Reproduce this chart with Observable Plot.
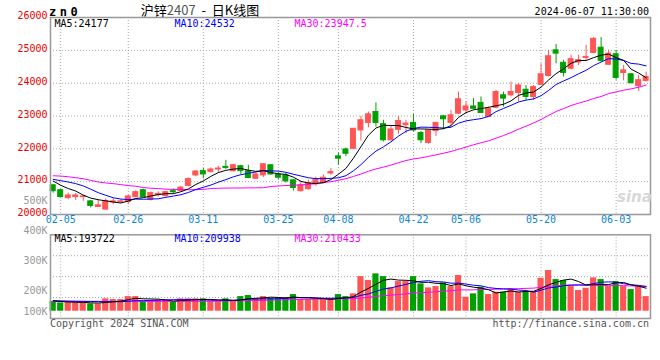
<!DOCTYPE html>
<html><head><meta charset="utf-8">
<script src="https://cdn.jsdelivr.net/npm/d3@7"></script>
<script src="https://cdn.jsdelivr.net/npm/@observablehq/plot@0.6"></script>
<style>
body{margin:0;background:#fff;}
#wrap{position:relative;width:660px;height:360px;overflow:hidden;background:#fff;}
</style></head><body><div id="wrap"></div>
<script>
// ---------- data ----------
const dates = ["02-02","02-05","02-06","02-07","02-08","02-19","02-20","02-21","02-22","02-23",
"02-26","02-27","02-28","02-29","03-01","03-04","03-05","03-06","03-07","03-08",
"03-11","03-12","03-13","03-14","03-15","03-18","03-19","03-20","03-21","03-22",
"03-25","03-26","03-27","03-28","03-29","04-01","04-02","04-03","04-08","04-09",
"04-10","04-11","04-12","04-15","04-16","04-17","04-18","04-19","04-22","04-23",
"04-24","04-25","04-26","04-29","04-30","05-06","05-07","05-08","05-09","05-10",
"05-13","05-14","05-15","05-16","05-17","05-20","05-21","05-22","05-23","05-24",
"05-27","05-28","05-29","05-30","05-31","06-03","06-04","06-05","06-06","06-07"];
const opens = [20890,20740,20500,20530,20530,20400,20230,20150,20370,20380,
20380,20530,20740,20450,20590,20560,20710,20720,20870,21190,
21320,21300,21370,21450,21320,21470,21320,21090,21190,21500,
21220,21190,21040,20710,20770,20920,20960,21250,21770,21980,
22000,22560,22790,23120,22750,22260,22580,22720,22790,22480,
22180,22540,22990,22790,23070,23170,23290,23400,22970,23250,
23630,23630,23700,23800,23580,23950,24220,25000,24620,24440,
24630,24770,24920,25080,24560,24880,24310,24270,23910,24070];
const highs = [20900,20770,20650,20640,20590,20430,20450,20480,20480,20450,
20590,20720,20770,20690,20690,20690,20780,20860,21110,21330,
21400,21420,21470,21650,21530,21500,21500,21260,21550,21500,
21280,21260,21060,21010,21040,21140,21210,21400,21870,22030,
22620,22990,23120,23400,22870,22690,22990,22870,23050,22530,
22580,22790,23020,23170,23730,23430,23530,23580,23270,23780,
23730,24030,23990,23930,23930,24590,25000,25180,24700,24850,
24850,25150,25390,25390,25000,25000,24540,24290,24240,24340];
const lows = [20650,20510,20450,20430,20400,20200,20220,20130,20300,20330,
20300,20510,20510,20410,20530,20530,20620,20690,20840,21150,
21090,21260,21250,21370,21290,21220,21090,21060,21120,21190,
21060,20960,20710,20680,20740,20860,20940,21190,21500,21760,
21980,22240,22640,22660,22210,22240,22440,22460,22510,22160,
22140,22380,22580,22660,23050,23070,23190,23070,22950,23220,
23270,23580,23430,23480,23480,23930,24190,24590,24190,24410,
24540,24680,24900,24640,24540,24090,24070,23980,23750,24030];
const closes = [20710,20530,20580,20580,20550,20260,20280,20410,20400,20400,
20550,20680,20530,20650,20630,20680,20680,20820,21080,21310,
21220,21370,21400,21420,21500,21320,21110,21220,21530,21220,
21120,21010,20810,20890,20960,21060,21120,21290,21700,21850,
22610,22870,23050,22790,22260,22590,22850,22770,22560,22260,
22560,22790,22900,23020,23510,23290,23220,23090,23220,23730,
23530,23730,23930,23580,23880,24270,24820,24900,24310,24730,
24700,24800,25350,24680,24900,24160,24390,24000,24090,24190];
// volume, thousands of lots
const volumes = [81,70,81,70,70,62,62,104,98,98,
123,123,81,90,90,90,76,104,104,104,
104,81,81,104,81,123,132,104,123,109,
112,112,140,98,98,98,98,104,140,123,
146,291,258,314,291,196,249,249,291,230,
196,207,238,207,300,118,146,202,140,160,
160,188,160,165,165,277,342,266,258,207,
174,193,280,266,207,249,207,182,207,123];
const ma5Head = [21020,20890,20790,20715];
const ma10Head = [21070,21030,20990,20940,20870,20770,20665,20585,20510];
const ma30Head = [21180,21170,21150,21120,21090,21040,20990,20960,20940,20910,
20880,20860,20820,20800,20790,20770,20765,20760,20755,20755,
20765,20790,20800,20805,20807,20808,20810,20812,20815];
const vma5Head = [88,82,78,75];
const vma10Head = [88,87,85,84,83,82,81,80,80];
const vma30Head = [83,83,83,83,83,83,83,83,83,83,83,83,83,83,83,83,83,83,83,83,84,84,85,86,87,88,89,90,91];
const priceTicks = [26000,25000,24000,23000,22000,21000,20000];
const volTicks = [500,400,300,200,100];
const dateTicks = ["02-05","02-26","03-11","03-25","04-08","04-22","05-06","05-20","06-03"];
const legendMain = ["MA5:24177","MA10:24532","MA30:23947.5"];
const legendVol = ["MA5:193722","MA10:209938","MA30:210433"];

// ---------- derived ----------
const UP = "#ff5555", DOWN = "#00a000";
const GRID = "#a8a8a8", FRAME = "#999";
const FONT = "DejaVu Sans Mono";
function movingAvg(vals, k, head){ return vals.map((_, i) => i < k - 1 ? head[i] : d3.mean(vals.slice(i - k + 1, i + 1))); }
const ma5 = movingAvg(closes,5,ma5Head), ma10 = movingAvg(closes,10,ma10Head), ma30 = movingAvg(closes,30,ma30Head);
const vma5 = movingAvg(volumes,5,vma5Head), vma10 = movingAvg(volumes,10,vma10Head), vma30 = movingAvg(volumes,30,vma30Head);
const rows = dates.map((d, i) => ({i, d, o: opens[i], h: highs[i], l: lows[i], c: closes[i], v: volumes[i],
  col: closes[i] >= opens[i] ? UP : DOWN}));
const tickIdx = dateTicks.map(t => dates.indexOf(t));
const xDomain = [-0.36, 79.58];
const wrap = document.getElementById("wrap");
function place(el, top){ el.style.position = "absolute"; el.style.left = "0px"; el.style.top = top + "px"; wrap.appendChild(el); }

// ---------- main K-line panel ----------
const main = Plot.plot({
  width: 660, height: 232, marginLeft: 50, marginRight: 10, marginTop: 17, marginBottom: 18,
  x: {domain: xDomain, axis: null},
  y: {domain: [20000, 26000], axis: null},
  color: {type: "identity"},
  style: {background: "transparent", overflow: "visible", fontFamily: FONT, fontSize: "10px"},
  marks: [
    Plot.ruleY(priceTicks.slice(1, -1), {y: d => d, stroke: GRID, strokeDasharray: "1,2"}),
    Plot.ruleX(tickIdx, {x: d => d, stroke: GRID, strokeDasharray: "1,2"}),
    Plot.ruleX(rows, {x: "i", y1: "l", y2: "h", stroke: "col", strokeWidth: 1}),
    Plot.rect(rows, {x1: d => d.i - 0.33, x2: d => d.i + 0.33, y1: d => Math.min(d.o, d.c), y2: d => Math.max(d.o, d.c), fill: "col", stroke: "col", strokeWidth: 1}),
    Plot.line(rows, {x: "i", y: (d, i) => ma30[i], stroke: "#ff00ff", strokeWidth: 1}),
    Plot.line(rows, {x: "i", y: (d, i) => ma10[i], stroke: "#0000ff", strokeWidth: 1}),
    Plot.line(rows, {x: "i", y: (d, i) => ma5[i], stroke: "#000", strokeWidth: 1}),
    Plot.frame({stroke: FRAME, strokeWidth: 1.5}),
    Plot.text(priceTicks, {y: d => d, text: d => String(d), frameAnchor: "left", textAnchor: "end", dx: -3, dy: -1.5, fill: "#ee0000", fontSize: 10}),
    Plot.text(dateTicks, {x: d => dates.indexOf(d), text: d => d, frameAnchor: "bottom", dy: 8, fill: "#0a86d6", fontSize: 10})
  ]
});
place(main, 0);

// ---------- volume panel ----------
const vDomain = [-61, 642];
const vGrid = [1, 2, 3].map(k => vDomain[0] + (vDomain[1] - vDomain[0]) * k / 4);
const vol = Plot.plot({
  width: 660, height: 100, marginLeft: 50, marginRight: 10, marginTop: 9.3, marginBottom: 7,
  x: {domain: xDomain, axis: null},
  y: {domain: vDomain, axis: null},
  color: {type: "identity"},
  style: {background: "transparent", overflow: "visible"},
  marks: [
    Plot.ruleY(vGrid, {y: d => d, stroke: GRID, strokeDasharray: "1,2"}),
    Plot.ruleX(tickIdx, {x: d => d, stroke: GRID, strokeDasharray: "1,2"}),
    Plot.rect(rows, {x1: d => d.i - 0.41, x2: d => d.i + 0.41, y1: () => 0, y2: "v", fill: "col"}),
    Plot.line(rows, {x: "i", y: (d, i) => vma30[i], stroke: "#ff00ff", strokeWidth: 1}),
    Plot.line(rows, {x: "i", y: (d, i) => vma10[i], stroke: "#0000ff", strokeWidth: 1}),
    Plot.line(rows, {x: "i", y: (d, i) => vma5[i], stroke: "#000", strokeWidth: 1}),
    Plot.frame({stroke: FRAME, strokeWidth: 1.5})
  ]
});
place(vol, 225);

// volume axis labels: the source chart spaces them on its own piecewise label scale
const volLabelScale = d3.scaleLinear().domain([100, 200, 500]).range([311.3, 290.3, 200]);
const volAxis = Plot.plot({
  width: 660, height: 360, marginLeft: 50, marginRight: 10, marginTop: 0, marginBottom: 0,
  x: {domain: [0, 1], axis: null},
  y: {type: "identity", axis: null},
  style: {background: "transparent", overflow: "visible", fontFamily: FONT, fontSize: "10px"},
  marks: [
    Plot.text(volTicks, {y: d => volLabelScale(d), text: d => d + "K", frameAnchor: "left", textAnchor: "end", dx: -3, fill: "#999", fontSize: 10})
  ]
});
place(volAxis, 0);

// ---------- header / legends / footer text ----------
const T = d3.select(wrap).append("svg").attr("width", 660).attr("height", 360)
  .style("position", "absolute").style("left", "0px").style("top", "0px");
function txt(s, x, cy, o = {}) {
  return T.append("text").attr("x", x).attr("y", cy).attr("dy", "0.35em")
    .attr("text-anchor", o.anchor || "start").attr("fill", o.fill || "#000")
    .attr("font-size", o.size || 10).attr("font-weight", o.weight || "normal")
    .attr("font-family", o.family || FONT).attr("letter-spacing", o.spacing || 0).text(s);
}
txt("zn0", 49, 11.5, {size: 12, weight: "bold", spacing: 3.5});
const title = T.append("text").attr("x", 200).attr("y", 10).attr("dy", "0.35em").attr("text-anchor", "middle")
  .attr("font-family", "'Noto Sans CJK SC'").attr("font-size", 13);
title.append("tspan").attr("fill", "#000").text("沪锌");
title.append("tspan").attr("fill", "#555").text("2407");
title.append("tspan").attr("fill", "#000").attr("xml:space", "preserve").text("  -  日K线图");
txt("2024-06-07 11:30:00", 649, 11.7, {anchor: "end"});
const legColors = ["#000", "#0000ff", "#ff00ff"], legX = [54.5, 174.5, 294.5];
legendMain.forEach((s, k) => txt(s, legX[k], 23.7, {fill: legColors[k]}));
legendVol.forEach((s, k) => txt(s, legX[k], 238.7, {fill: legColors[k]}));
txt("Copyright 2024 SINA.COM", 50, 323.7, {fill: "#555"});
txt("http://finance.sina.com.cn", 649, 323.7, {anchor: "end", fill: "#555"});
txt("sina", 617, 197, {fill: "#d8d8d8", size: 15, weight: "bold", family: "DejaVu Sans"}).attr("font-style", "italic");
</script></body></html>
